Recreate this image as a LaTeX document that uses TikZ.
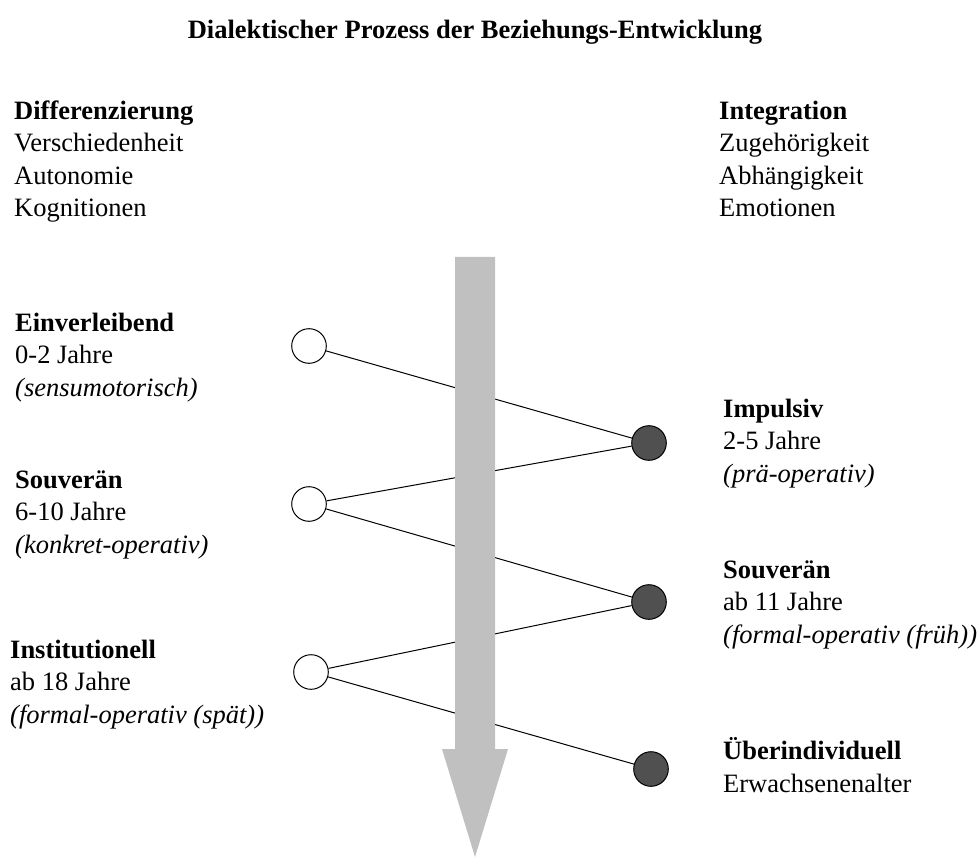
\documentclass[tikz,border=0pt]{standalone}
\usepackage{fontspec}
\setmainfont{Liberation Serif}
\definecolor{arrowgray}{HTML}{C0C0C0}
\definecolor{dotdark}{HTML}{505050}
\tikzset{
  txt/.style={anchor=base west, inner sep=0pt, align=left, font=\fontsize{26.5}{32.5}\selectfont},
  opendot/.style={circle, draw=black, fill=white, line width=1pt, minimum size=34.6pt, inner sep=0pt},
  fulldot/.style={circle, draw=black, fill=dotdark, line width=1pt, minimum size=34.6pt, inner sep=0pt},
  link/.style={draw=black, line width=1pt},
  bigarrow/.style={fill=arrowgray, draw=none}
}
\begin{document}
\begin{tikzpicture}[x=1pt,y=-1pt]
\useasboundingbox (0,0) rectangle (979,858);
% title
\node[anchor=base, inner sep=0pt, font=\fontsize{26.5}{32.5}\selectfont\bfseries] (title) at (475,39) {Dialektischer Prozess der Beziehungs-Entwicklung};
% column heads (anchor at baseline of last line)
\node[txt] (diff) at (14,217) {\textbf{Differenzierung}\\Verschiedenheit\\Autonomie\\Kognitionen};
\node[txt] (integ) at (719,217) {\textbf{Integration}\\Zugehörigkeit\\Abhängigkeit\\Emotionen};
% stage labels
\node[txt] (s1) at (15,396) {\textbf{Einverleibend}\\0-2 Jahre\\\textit{(sensumotorisch)}};
\node[txt] (s3) at (15,553) {\textbf{Souverän}\\6-10 Jahre\\\textit{(konkret-operativ)}};
\node[txt] (s5) at (10,723) {\textbf{Institutionell}\\ab 18 Jahre\\\textit{(formal-operativ (spät))}};
\node[txt] (s2) at (723,482) {\textbf{Impulsiv}\\2-5 Jahre\\\textit{(prä-operativ)}};
\node[txt] (s4) at (723,643) {\textbf{Souverän}\\ab 11 Jahre\\\textit{(formal-operativ (früh))}};
\node[txt] (s6) at (723,792) {\textbf{Überindividuell}\\Erwachsenenalter};
% dots
\node[opendot] (l1) at (309,346) {};
\node[opendot] (l2) at (309,504) {};
\node[opendot] (l3) at (311,672) {};
\node[fulldot] (r1) at (649,443) {};
\node[fulldot] (r2) at (649,602) {};
\node[fulldot] (r3) at (651,769) {};
% links
\draw[link] (l1) -- (r1);
\draw[link] (r1) -- (l2);
\draw[link] (l2) -- (r2);
\draw[link] (r2) -- (l3);
\draw[link] (l3) -- (r3);
% big arrow on top
\fill[bigarrow] (455,257) -- (495,257) -- (495,749) -- (508,749) -- (475,857) -- (442,749) -- (455,749) -- cycle;
\end{tikzpicture}
\end{document}
